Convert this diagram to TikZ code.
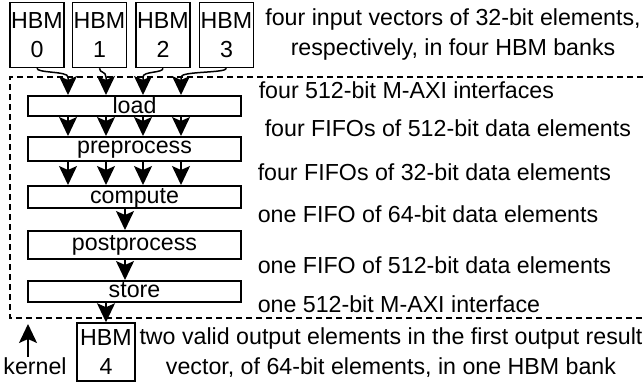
\documentclass[tikz,border=0pt]{standalone}
\usepackage{fontspec}
\setmainfont{Liberation Sans}
\usetikzlibrary{arrows.meta}
\begin{document}
\begin{tikzpicture}[x=1pt,y=-1pt,line width=1.5pt,
  every node/.style={font=\fontsize{23.2}{29.5}\selectfont},
  hbm/.style={draw,minimum width=54pt,minimum height=65pt,inner sep=0pt,align=center},
  stage/.style={draw,anchor=north,minimum width=213pt,inner sep=0pt},
  arr/.style={-{Stealth[length=19pt,width=18pt,inset=4pt]}},
  lbl/.style={anchor=base west,inner sep=0pt},
  frame/.style={dashed,dash pattern=on 6pt off 4pt}]
\useasboundingbox (0,0) rectangle (643,384);
% input banks
\node[hbm] (h0) at (37,35) {HBM\\0};
\node[hbm] (h1) at (99.5,35) {HBM\\1};
\node[hbm] (h2) at (163,35) {HBM\\2};
\node[hbm] (h3) at (226.5,35) {HBM\\3};
\node[align=center,inner sep=0pt,anchor=base] (tin) at (453,55) {four input vectors of 32-bit elements,\\respectively, in four HBM banks};
% kernel frame
\coordinate (fr1) at (643,77);
\coordinate (fr2) at (10,77);
\coordinate (fr3) at (10,318);
\coordinate (fr4) at (643,318);
\draw[frame] (fr1) -- (fr2) -- (fr3) -- (fr4);
% stages
\node[stage,text height=18pt,text depth=2pt] (load) at (134.5,95) {load};
\node[stage,text height=17pt,text depth=7pt] (pre) at (134.5,136) {preprocess};
\node[stage,text height=18pt,text depth=4pt] (comp) at (134.5,185) {compute};
\node[stage,text height=20pt,text depth=8pt] (post) at (134.5,230) {postprocess};
\node[stage,text height=17pt,text depth=4pt] (store) at (134.5,280) {store};
% lane coordinates
\coordinate (a1) at (68,77);
\coordinate (a2) at (106,77);
\coordinate (a3) at (143,77);
\coordinate (a4) at (181,77);
\coordinate (amid) at (125,0);
\coordinate (aout) at (106,0);
% input connectors
\draw[arr] (h0.south) .. controls +(0,5) and +(0,-6) .. (a1) -- (a1 |- load.north);
\draw[arr] (h1.south) .. controls +(0,5) and +(0,-6) .. (a2) -- (a2 |- load.north);
\draw[arr] (h2.south) .. controls +(0,5) and +(0,-6) .. (a3) -- (a3 |- load.north);
\draw[arr] (h3.south) .. controls +(0,5) and +(0,-6) .. (a4) -- (a4 |- load.north);
% load -> preprocess -> compute
\foreach \lane in {a1,a2,a3,a4}{
  \draw[arr] (\lane |- load.south) -- (\lane |- pre.north);
  \draw[arr] (\lane |- pre.south) -- (\lane |- comp.north);
}
\draw[arr] (amid |- comp.south) -- (amid |- post.north);
\draw[arr] (amid |- post.south) -- (amid |- store.north);
% output bank
\node[hbm,minimum width=58pt,minimum height=58pt] (h4) at (106,352) {HBM\\4};
\draw[arr] (aout |- store.south) -- (h4.north);
% kernel label
\node[anchor=base,inner sep=0pt] (kern) at (35,374) {kernel};
\coordinate (kt) at (28,324);
\coordinate (kb) at (28,357);
\draw[arr] (kb) -- (kt);
% right labels
\node[lbl] (l1) at (258,98) {four 512-bit M-AXI interfaces};
\node[lbl] (l2) at (264,136) {four FIFOs of 512-bit data elements};
\node[lbl] (l3) at (257,180) {four FIFOs of 32-bit data elements};
\node[lbl] (l4) at (257,222) {one FIFO of 64-bit data elements};
\node[lbl] (l5) at (257,273) {one FIFO of 512-bit data elements};
\node[lbl] (l6) at (257,312) {one 512-bit M-AXI interface};
\node[align=center,inner sep=0pt,anchor=base] (tout) at (391,374) {two valid output elements in the first output result\\vector, of 64-bit elements, in one HBM bank};
\end{tikzpicture}
\end{document}
